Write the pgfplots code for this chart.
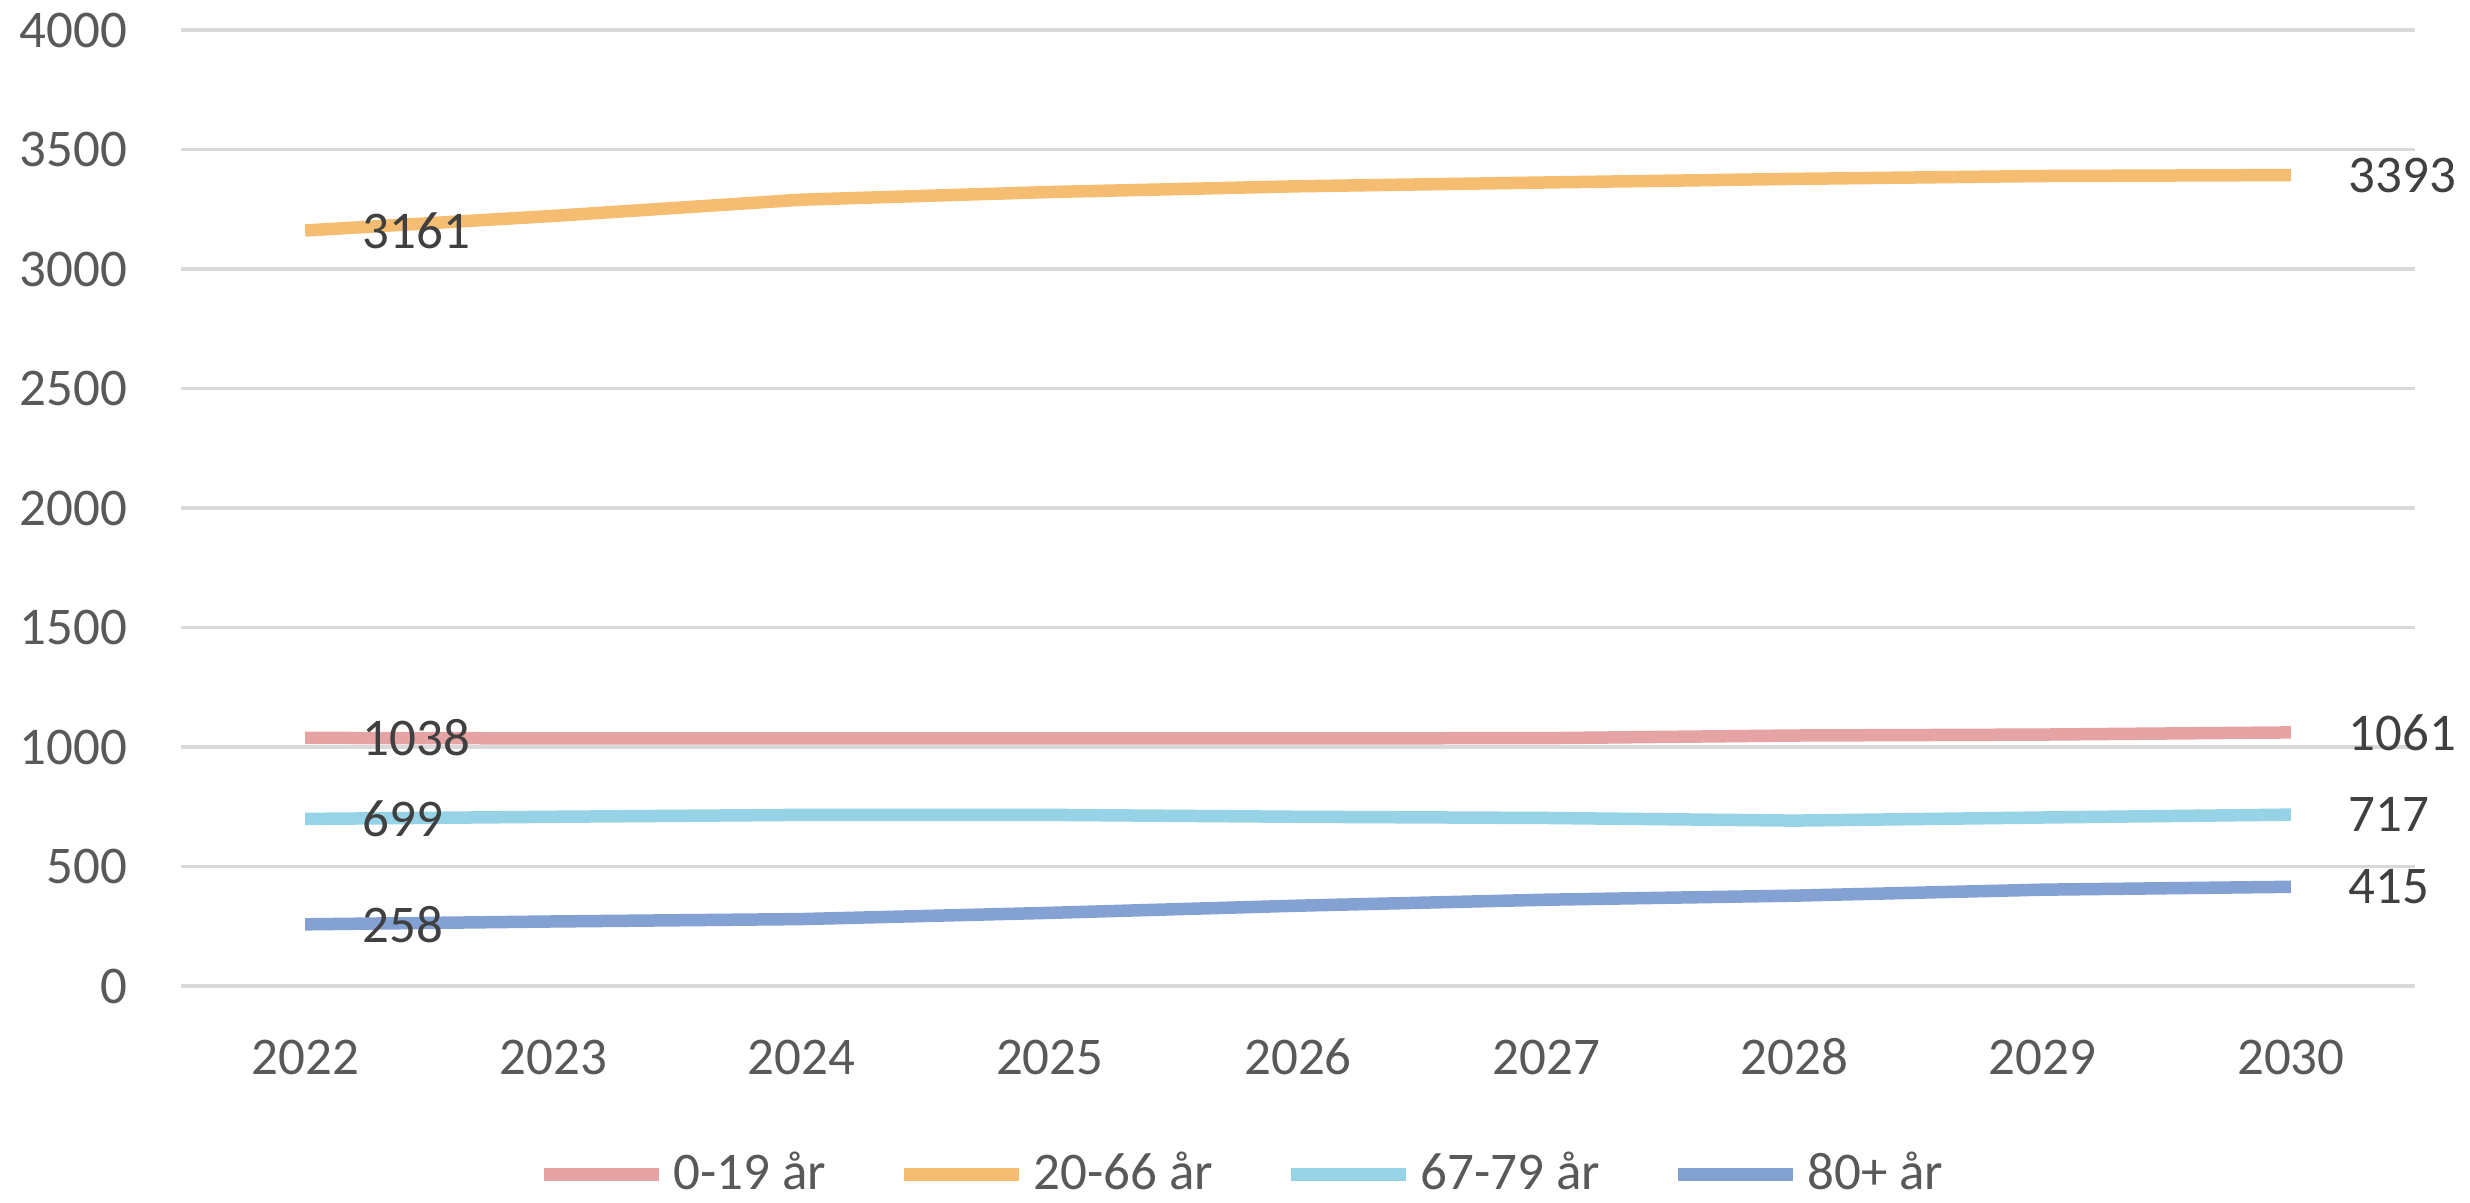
\documentclass[border=0pt]{standalone}
\usepackage{fontspec}
\setmainfont{Carlito}
\usepackage{pgfplots}
\pgfplotsset{compat=1.18}

\definecolor{cA}{HTML}{E6A3A3}
\definecolor{cB}{HTML}{F4BD72}
\definecolor{cC}{HTML}{96D3E6}
\definecolor{cD}{HTML}{84A1D3}
\definecolor{gridgray}{HTML}{D9D9D9}
\definecolor{ticktext}{HTML}{595959}
\definecolor{labeltext}{HTML}{404040}

\begin{document}
\begin{tikzpicture}
\useasboundingbox (0,0) rectangle (494pt,240.4pt);
\begin{axis}[
  at={(36.2pt,43.2pt)}, anchor=south west,
  width=446.8pt, height=191.2pt, scale only axis,
  xmin=-0.5, xmax=8.5, ymin=0, ymax=4000,
  xtick={0,1,2,3,4,5,6,7,8},
  xticklabels={2022,2023,2024,2025,2026,2027,2028,2029,2030},
  ytick={0,500,1000,1500,2000,2500,3000,3500,4000},
  yticklabels={0,500,1000,1500,2000,2500,3000,3500,4000},
  major tick length=0pt,
  axis line style={draw=none},
  ymajorgrids, grid style={gridgray, line width=0.65pt},
  tick label style={font=\fontsize{10.6}{12}\selectfont, text=ticktext},
  yticklabel style={anchor=east, inner sep=0pt, xshift=-10.6pt},
  xticklabel style={anchor=center, inner sep=0pt, yshift=-14.2pt},
  every axis plot/.append style={line width=2.5pt, line join=round, mark=none},
  point meta=explicit symbolic,
  nodes near coords,
  every node near coord/.append style={anchor=west, inner sep=0pt, xshift=10.3pt, yshift=0pt,
    font=\fontsize{10.6}{12}\selectfont, text=labeltext},
  legend columns=4,
  legend style={at={(0.476,-0.197)}, anchor=center, draw=none, fill=none,
    font=\fontsize{10.6}{12}\selectfont, text=ticktext,
    /tikz/every even column/.append style={column sep=12.9pt},
    nodes={inner sep=1.5pt}},
  legend image code/.code={\draw[#1, line width=2.6pt] (0pt,0pt) -- (23pt,0pt);},
]
\addplot[cA] coordinates {(0,1038) [1038] (1,1036) [] (2,1036) [] (3,1036) [] (4,1036) [] (5,1037) [] (6,1048) [] (7,1052) [] (8,1061) [1061]};
\addlegendentry{0-19 år}
\addplot[cB] coordinates {(0,3161) [3161] (1,3222) [] (2,3290) [] (3,3322) [] (4,3346) [] (5,3362) [] (6,3377) [] (7,3389) [] (8,3393) [3393]};
\addlegendentry{20-66 år}
\addplot[cC] coordinates {(0,699) [699] (1,708) [] (2,716) [] (3,716) [] (4,708) [] (5,703) [] (6,692) [] (7,705) [] (8,717) [717]};
\addlegendentry{67-79 år}
\addplot[cD] coordinates {(0,258) [258] (1,270) [] (2,280) [] (3,306) [] (4,336) [] (5,361) [] (6,378) [] (7,403) [] (8,415) [415]};
\addlegendentry{80+ år}
\end{axis}
\end{tikzpicture}
\end{document}
